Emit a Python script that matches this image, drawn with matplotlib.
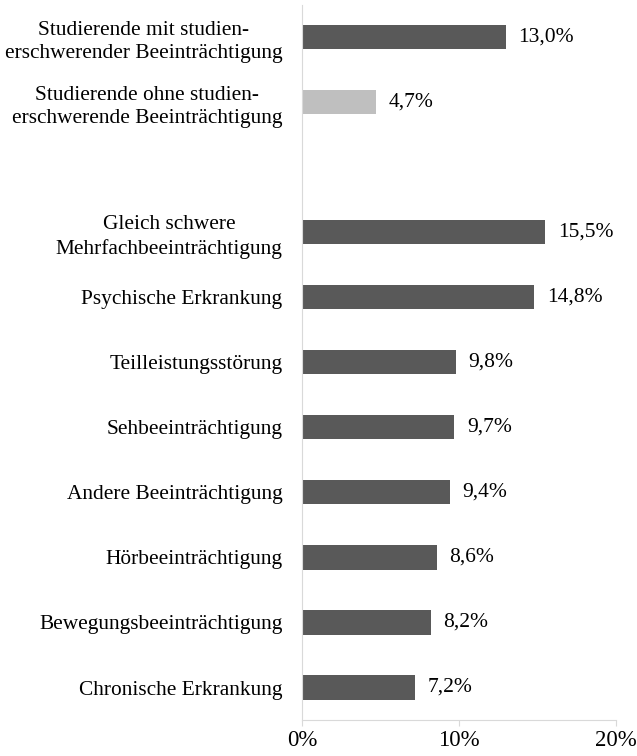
import numpy as np
import matplotlib.pyplot as plt

plt.rcParams['font.family'] = ['Liberation Serif', 'DejaVu Serif']

categories = [
    'Studierende mit studien-\nerschwerender Beeinträchtigung',
    'Studierende ohne studien-\nerschwerende Beeinträchtigung',
    '',
    'Gleich schwere\nMehrfachbeeinträchtigung',
    'Psychische Erkrankung',
    'Teilleistungsstörung',
    'Sehbeeinträchtigung',
    'Andere Beeinträchtigung',
    'Hörbeeinträchtigung',
    'Bewegungsbeeinträchtigung',
    'Chronische Erkrankung',
]
values = [13.0, 4.7, None, 15.5, 14.8, 9.8, 9.7, 9.4, 8.6, 8.2, 7.2]
colors = ['#595959', '#bfbfbf', None] + ['#595959'] * 8

fig = plt.figure(figsize=(6.37, 7.56), dpi=100)
ax = fig.add_axes([0.474, 0.0476, 0.493, 0.946])

for i, (v, c) in enumerate(zip(values, colors)):
    if v is None:
        continue
    ax.barh(i, v, height=0.37, color=c)
    ax.text(v + 0.8, i, f'{v:.1f}%'.replace('.', ','), va='center', ha='left',
            fontsize=15.5)

ax.set_ylim(10.5, -0.5)
ax.set_xlim(0, 20)
ax.set_yticks(range(len(categories)))
ax.set_yticklabels(categories, fontsize=15.4, linespacing=1.3)
for lbl in ax.get_yticklabels():
    lbl.set_multialignment('center')
ax.tick_params(axis='y', length=0, pad=14)
ax.set_xticks([0, 10, 20])
ax.set_xticklabels(['0%', '10%', '20%'], fontsize=16.5)
ax.tick_params(axis='x', length=4, color='#d9d9d9', pad=3)

for s in ['top', 'right']:
    ax.spines[s].set_visible(False)
for s in ['left', 'bottom']:
    ax.spines[s].set_color('#d9d9d9')

fig.savefig('out.png', dpi=100)
